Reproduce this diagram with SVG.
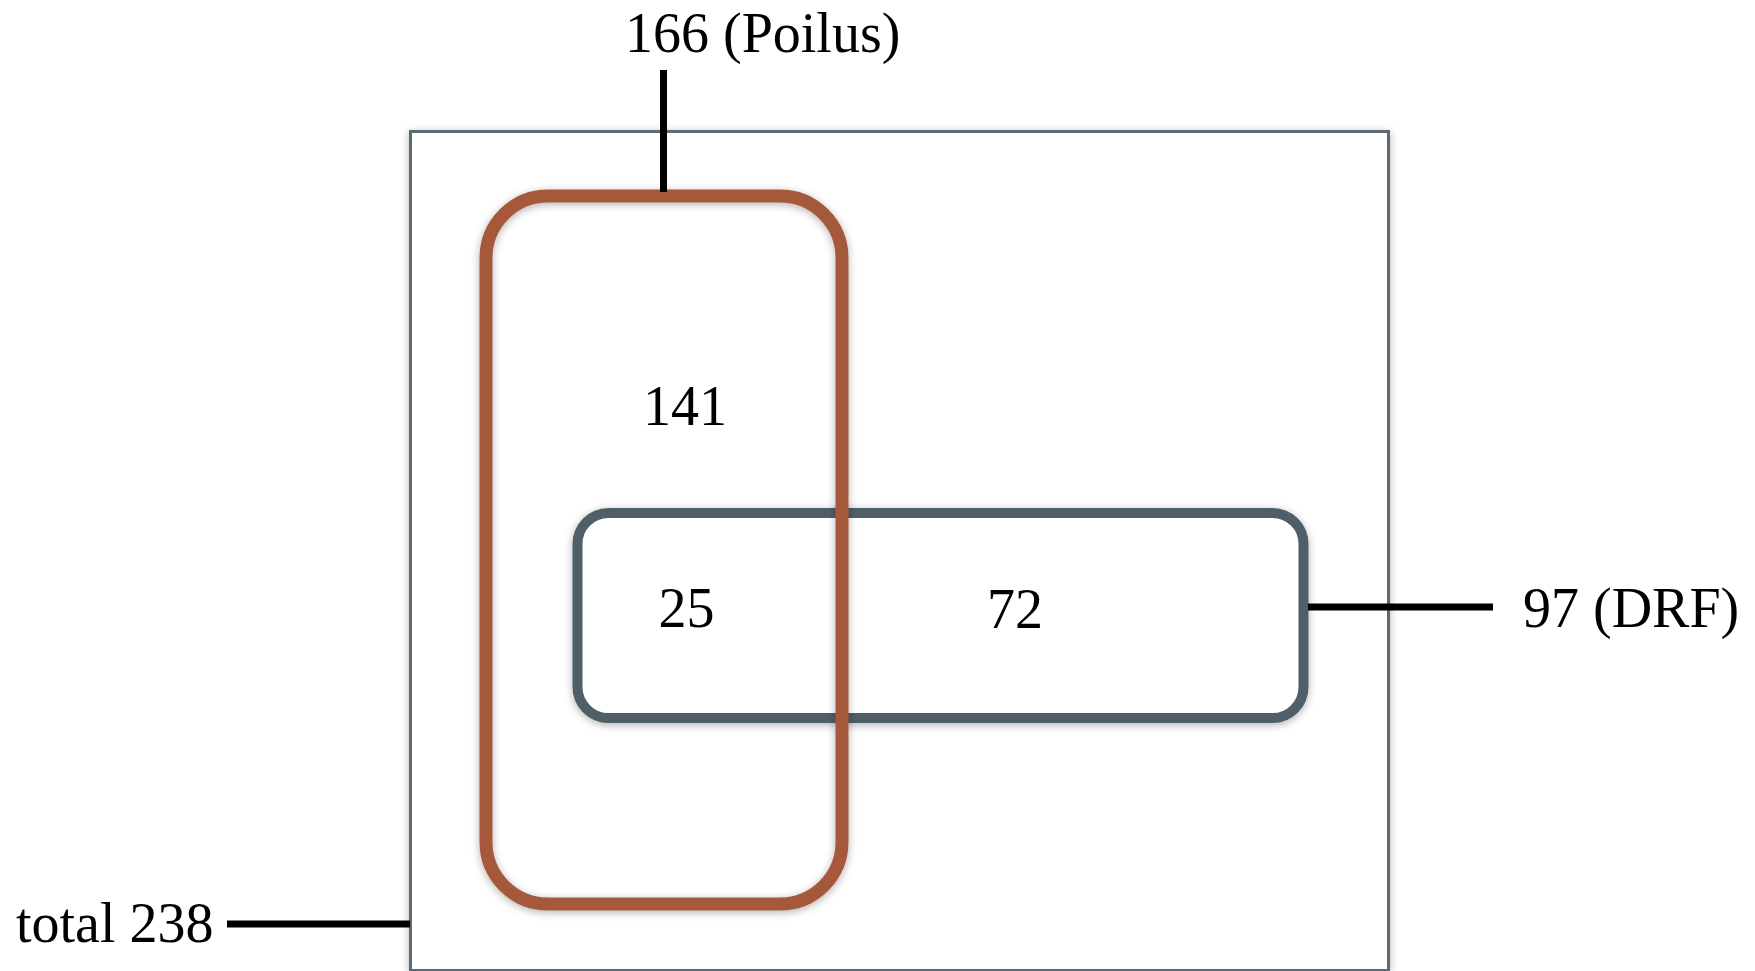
<svg xmlns="http://www.w3.org/2000/svg" width="1755" height="971" viewBox="0 0 1755 971">
  <style>
    .lbl { font-family: "Liberation Serif", "Times New Roman", serif; font-size: 56px; fill: #000; }
    .mid { text-anchor: middle; }
    .conn { stroke: #000; stroke-width: 7; fill: none; }
  </style>
  <defs>
    <filter id="sh" x="-10%" y="-10%" width="120%" height="120%">
      <feDropShadow dx="0" dy="2" stdDeviation="4" flood-color="#000" flood-opacity="0.3"/>
    </filter>
  </defs>
  <rect width="1755" height="971" fill="#fff"/>
  <g id="total">
    <rect x="410.5" y="131.5" width="978" height="839" fill="#fff" stroke="#5c6a72" stroke-width="3" filter="url(#sh)"/>
  </g>
  <g id="drf">
    <rect x="577.5" y="513" width="726" height="205" rx="31" ry="31" fill="#fff" stroke="#4f5f68" stroke-width="10" filter="url(#sh)"/>
  </g>
  <g id="poilus">
    <rect x="486" y="196" width="356" height="708" rx="62" ry="62" fill="none" stroke="#a6583b" stroke-width="13" filter="url(#sh)"/>
  </g>
  <g id="connectors">
    <line class="conn" x1="663.5" y1="70" x2="663.5" y2="192"/>
    <line class="conn" x1="227" y1="924" x2="410" y2="924"/>
    <line class="conn" x1="1308" y1="607" x2="1493" y2="607"/>
  </g>
  <g id="labels">
    <text class="lbl" x="625" y="52">166 (Poilus)</text>
    <text class="lbl" x="16" y="942">total 238</text>
    <text class="lbl" x="1523" y="627">97 (DRF)</text>
    <text class="lbl mid" x="685" y="425">141</text>
    <text class="lbl mid" x="686.5" y="627">25</text>
    <text class="lbl mid" x="1015" y="628">72</text>
  </g>
</svg>
